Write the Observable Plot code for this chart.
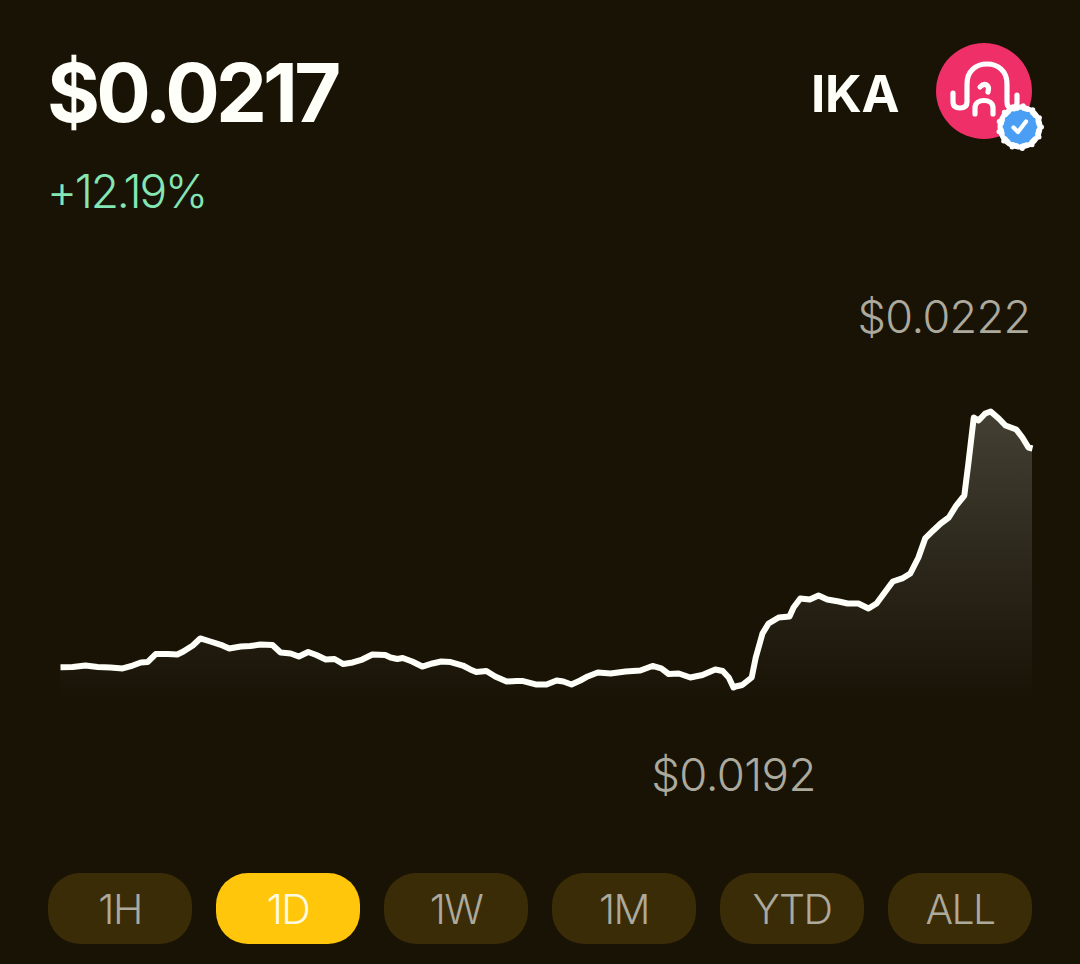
<!DOCTYPE html>
<html>
<head>
<meta charset="utf-8">
<script src="https://cdn.jsdelivr.net/npm/d3@7"></script>
<script src="https://cdn.jsdelivr.net/npm/@observablehq/plot@0.6"></script>
<style>
html,body{margin:0;padding:0;background:#181305;width:1080px;height:964px;overflow:hidden}
#page{position:relative;width:1080px;height:964px;font-family:Inter,sans-serif}
#chart{position:absolute;left:0;top:0}
#chart svg{display:block;background:transparent}
#chart text{letter-spacing:-0.6px}
.t{position:absolute;white-space:nowrap;line-height:1}
#price{left:47px;top:53px;font-family:Inter;font-weight:700;font-size:81px;letter-spacing:-3.9px;color:#fffffa}
#change{left:47px;top:168px;font-weight:320;font-size:46px;letter-spacing:-2.2px;color:#84e6b4}
#sym{left:811px;top:68px;font-family:Inter;font-weight:700;font-size:51px;letter-spacing:-0.3px;color:#fffffa}
#logo{position:absolute;left:920px;top:30px}
.b{position:absolute;top:873px;width:144px;height:71px;border-radius:32px;background:#3a2c07;color:#aca99d;
  display:flex;align-items:center;justify-content:center;font-weight:330;font-size:41px;letter-spacing:-1.6px}
.b.on{background:#ffc60b;color:#fffbe3}
</style>
</head>
<body>
<div id="page">
  <div id="chart"></div>
  <div class="t" id="price"></div>
  <div class="t" id="change"></div>
  <div class="t" id="sym"></div>
  <svg id="logo" width="140" height="130" viewBox="920 30 140 130">
    <circle cx="984" cy="91" r="48" fill="#ef2f67"/>
    <g fill="none" stroke="#fff" stroke-width="5.2" stroke-linecap="round" stroke-linejoin="round">
      <path d="M953 93V102Q953 108 960 108Q967 108 967 102V84C967 71 976 64 987 64C998 64 1007 71 1007 84V102Q1007 108 1012 108Q1017 108 1017 102V95"/>
      <path d="M975 114V108C975 98 993 98 993 108V114"/>
      <path d="M980 87C985 82 990 85 988 92"/>
    </g>
    <circle cx="1020" cy="127" r="22.5" fill="#fff"/>
    <circle cx="1020" cy="127" r="21.5" fill="none" stroke="#fff" stroke-width="5" stroke-linecap="round" stroke-dasharray="0 10.392"/>
    <circle cx="1020" cy="127" r="16.5" fill="#4a9ff5"/>
    <circle cx="1020" cy="127" r="15.5" fill="none" stroke="#4a9ff5" stroke-width="4" stroke-linecap="round" stroke-dasharray="0 8.116"/>
    <path d="M1013.5 127.5L1018 132L1026 121.5" fill="none" stroke="#fff" stroke-width="4.2" stroke-linecap="round" stroke-linejoin="round"/>
  </svg>
</div>
<script>
const currentPrice = "$0.0217";
const changeLabel = "+12.19%";
const symbol = "IKA";
const ranges = ["1H", "1D", "1W", "1M", "YTD", "ALL"];
const activeRange = "1D";

const minutes = [0,18,37,55,74,92,107,119,129,141,159,173,182,196,207,222,240,250,267,281,296,314,326,341,353,367,379,393,406,419,433,447,462,481,489,499,507,521,536,551,564,578,596,607,616,631,644,661,676,684,704,720,735,745,757,770,781,796,815,837,859,877,890,901,916,933,951,970,981,990,997,1000,1010,1024,1030,1040,1049,1064,1080,1086,1096,1110,1123,1136,1153,1166,1182,1197,1209,1221,1233,1247,1259,1271,1281,1293,1304,1316,1327,1339,1345,1353,1360,1370,1378,1390,1400,1416,1425,1434,1440];
const prices = [.019421,.019423,.019439,.019423,.019417,.019407,.019439,.019472,.019477,.019564,.019564,.019559,.019591,.019657,.019733,.0197,.019657,.019624,.019646,.019651,.019667,.019662,.01958,.01957,.019537,.019586,.019553,.019504,.01951,.019455,.019472,.019504,.019559,.019553,.019526,.01951,.019521,.019483,.019428,.019461,.019483,.019477,.019439,.019396,.019368,.019379,.01932,.019265,.019271,.019271,.019233,.019233,.019276,.019265,.019233,.019276,.01932,.019363,.019352,.019374,.019385,.019434,.019407,.019347,.019352,.019309,.019336,.019396,.019379,.019309,.0192,.019211,.019227,.019309,.019526,.019787,.019896,.019961,.019972,.02007,.020167,.020157,.0202,.020157,.020135,.020113,.020113,.020059,.020113,.020233,.020352,.020385,.020439,.020613,.02082,.020907,.020983,.021048,.021178,.021287,.021635,.022135,.022102,.022178,.0222,.022124,.022048,.022004,.021917,.021809,.021798];
const areaFloor = 0.01905;

const series = minutes.map((m, i) => ({minute: m, price: prices[i]}));
const hi = series[d3.greatestIndex(series, d => d.price)];
const lo = series[d3.leastIndex(series, d => d.price)];

const gradient = () => {
  const s = d3.create("svg:defs");
  const g = s.append("linearGradient").attr("id", "fade").attr("x1", 0).attr("x2", 0).attr("y1", 0).attr("y2", 1);
  g.append("stop").attr("offset", "0%").attr("stop-color", "#fff").attr("stop-opacity", 0.19);
  g.append("stop").attr("offset", "60%").attr("stop-color", "#fff").attr("stop-opacity", 0.07);
  g.append("stop").attr("offset", "100%").attr("stop-color", "#fff").attr("stop-opacity", 0);
  return s.node();
};

const plot = Plot.plot({
  width: 1080, height: 964,
  margin: 0,
  style: {background: "transparent", overflow: "visible"},
  x: {domain: [0, 1440], range: [60, 1032], axis: null},
  y: {domain: [0.0192, 0.0222], range: [687, 411], axis: null},
  marks: [
    gradient,
    Plot.areaY(series, {x: "minute", y1: () => areaFloor, y2: "price", fill: "url(#fade)"}),
    Plot.lineY(series, {x: "minute", y: "price", stroke: "#fffffa", strokeWidth: 6, strokeLinejoin: "round", strokeLinecap: "butt"}),
    Plot.text([hi], {x: "minute", y: "price", text: d => "$" + d.price.toFixed(4), dx: 40, dy: -93, textAnchor: "end",
      fontFamily: "Inter", fontWeight: 340, fontSize: 45, fill: "#aca99d"}),
    Plot.text([lo], {x: "minute", y: "price", text: d => "$" + d.price.toFixed(4), dy: 89, textAnchor: "middle",
      fontFamily: "Inter", fontWeight: 340, fontSize: 45.5, fill: "#aca99d"})
  ]
});
document.getElementById("chart").appendChild(plot);
document.getElementById("price").textContent = currentPrice;
document.getElementById("change").textContent = changeLabel;
document.getElementById("sym").textContent = symbol;
const page = document.getElementById("page");
ranges.forEach((r, i) => {
  const b = document.createElement("div");
  b.className = "b" + (r === activeRange ? " on" : "");
  b.style.left = (48 + i * 168) + "px";
  b.textContent = r;
  page.appendChild(b);
});
</script>
</body>
</html>
